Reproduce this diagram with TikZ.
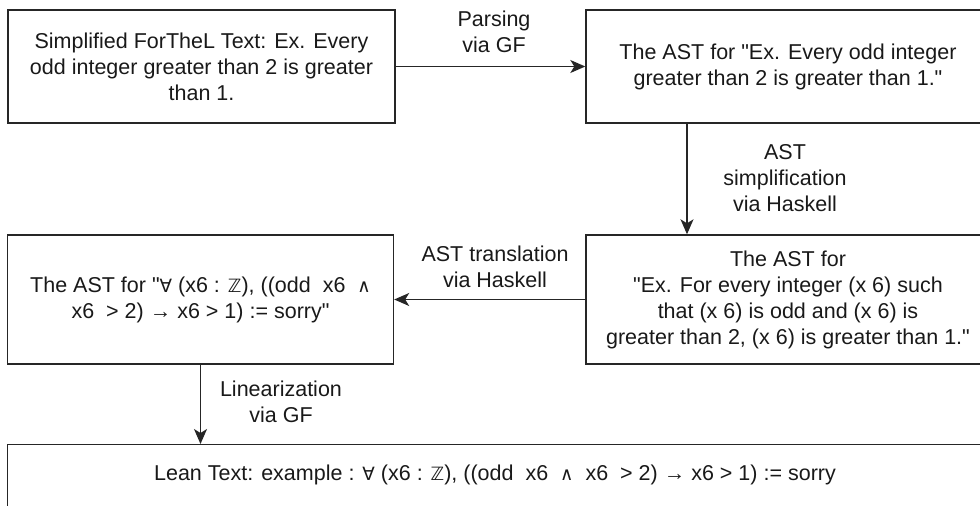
\documentclass[tikz,border=0pt]{standalone}
\usepackage{fontspec}
\setmainfont{Liberation Sans}
\newfontfamily\symf{DejaVu Sans}[Scale=0.85]
\newcommand{\sy}[1]{{\symf #1}}
\newcommand{\qt}{\XeTeXglyph\XeTeXcharglyph34\relax}
\usetikzlibrary{arrows.meta}
\begin{document}
\begin{tikzpicture}[x=1pt,y=-1pt,
  every node/.style={font=\fontsize{21.5}{26}\selectfont, text=black!90, inner sep=0pt},
  box/.style={draw=black!85, line width=1.4pt, align=center},
  lbl/.style={align=center},
  arr/.style={draw=black!85, line width=1.4pt, -{Stealth[length=15pt,width=13pt,inset=4pt]}}]
\clip (0,0) rectangle (980,506);
\node[box, minimum width=387, minimum height=113] (b1) at (201.5,66.5) {Simplified ForTheL Text: Ex. Every\\odd integer greater than 2 is greater\\than 1.};
\node[box, minimum width=404, minimum height=113] (b2) at (788,66.5) {The AST for \qt Ex. Every odd integer\\greater than 2 is greater than 1.\qt};
\node[box, minimum width=404, minimum height=129] (b3) at (788,299.5) {The AST for\\\qt Ex. For every integer (x 6) such\\that (x 6) is odd and (x 6) is\\greater than 2, (x 6) is greater than 1.\qt};
\node[box, minimum width=386, minimum height=129] (b4) at (200.5,299.5) {The AST for \qt\sy{∀} (x6 : \sy{ℤ}), ((odd\ \ x6\ \ \sy{∧}\\x6\ \ > 2) → x6 > 1) := sorry\qt};
\node[box, minimum width=976, minimum height=66, anchor=north west] (b5) at (7,444) {};
\node (t5) at (495,475) {Lean Text: example : \sy{∀} (x6 : \sy{ℤ}), ((odd\ \ x6\ \ \sy{∧}\ \ x6\ \ > 2) → x6 > 1) := sorry};
\coordinate (c1) at (687,0);
\draw[arr] (b1.east) -- (b2.west);
\draw[arr] (b2.south -| c1) -- (b3.north -| c1);
\draw[arr] (b3.west) -- (b4.east);
\draw[arr] (b4.south) -- (b5.north -| b4.south);
\node[lbl] (l1) at (494,32) {Parsing\\via GF};
\node[lbl] (l2) at (785,178) {AST\\simplification\\via Haskell};
\node[lbl] (l3) at (495,267) {AST translation\\via Haskell};
\node[lbl] (l4) at (281,402) {Linearization\\via GF};
\end{tikzpicture}
\end{document}
